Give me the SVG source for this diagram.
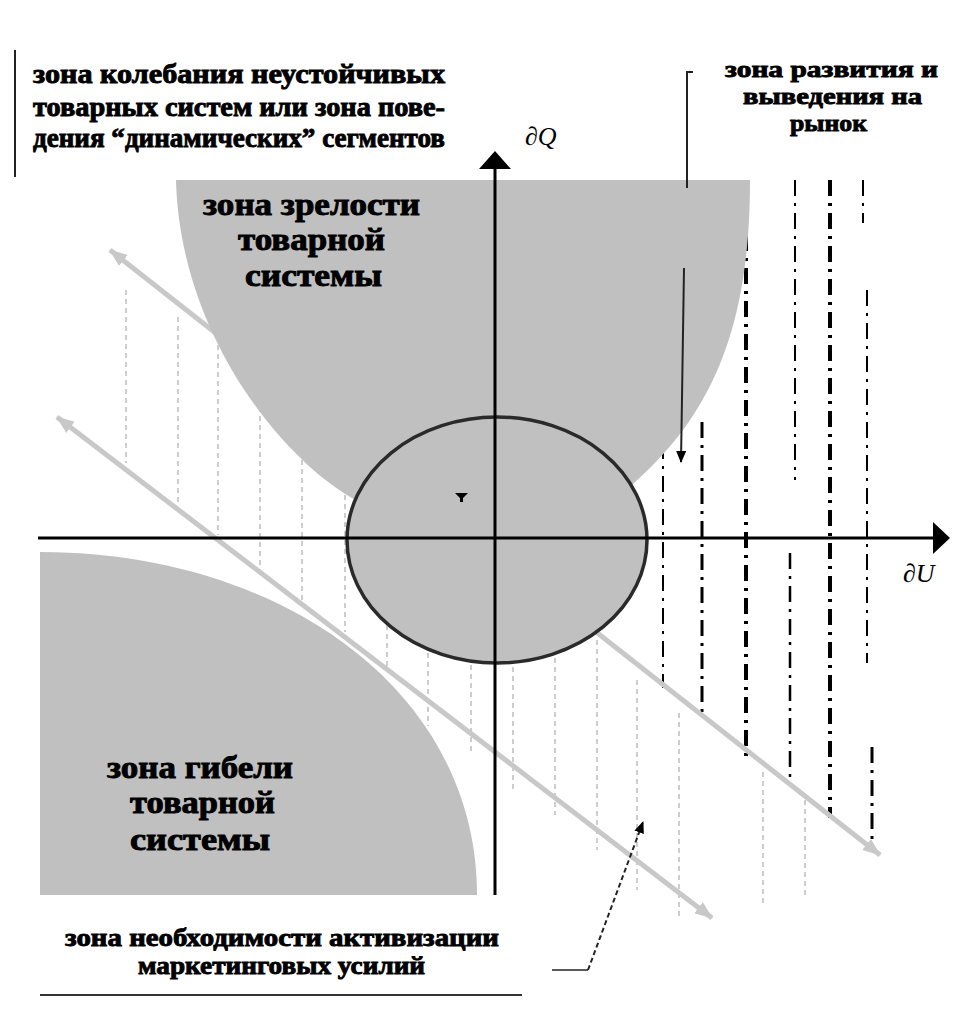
<svg xmlns="http://www.w3.org/2000/svg" width="970" height="1012" viewBox="0 0 970 1012">
<style>
.bg{fill:#ffffff}
.zone{fill:#c0c0c0}
.hatch{stroke:#bdbdbd;stroke-width:1.5;stroke-dasharray:5 4;fill:none}
.dd{stroke:#000;stroke-dasharray:16 7 3 7;fill:none}
.garrow{stroke:#c8c8c8;stroke-width:5;fill:none}
.axis{stroke:#000;stroke-width:3;fill:none}
.ann{stroke:#222;stroke-width:2;fill:none}
.lbl{font-family:"Liberation Serif","Times New Roman",serif;font-weight:bold;fill:#000;stroke:#000;stroke-width:0.9}
.ax{font-family:"Liberation Serif","DejaVu Serif",serif;font-style:italic;font-size:26px;fill:#000}
</style>
<defs>
<marker id="ga" markerUnits="userSpaceOnUse" markerWidth="18" markerHeight="14" refX="17" refY="7" orient="auto-start-reverse">
<path d="M0,0 L18,7 L0,14 Z" fill="#c8c8c8"/>
</marker>
<marker id="ba" markerUnits="userSpaceOnUse" markerWidth="12" markerHeight="10" refX="11" refY="5" orient="auto">
<path d="M0,0 L12,5 L0,10 Z" fill="#000"/>
</marker>
</defs>
<rect class="bg" x="0" y="0" width="970" height="1012"/>

<g id="hatching">
<line class="hatch" x1="126" y1="290" x2="126" y2="463"/>
<line class="hatch" x1="178" y1="317" x2="178" y2="503"/>
<line class="hatch" x1="218" y1="345" x2="218" y2="535"/>
<line class="hatch" x1="260" y1="380" x2="260" y2="572"/>
<line class="hatch" x1="302" y1="415" x2="302" y2="600"/>
<line class="hatch" x1="345" y1="450" x2="345" y2="632"/>
<line class="hatch" x1="387" y1="490" x2="387" y2="672"/>
<line class="hatch" x1="428" y1="590" x2="428" y2="726"/>
<line class="hatch" x1="471" y1="620" x2="471" y2="753"/>
<line class="hatch" x1="513" y1="640" x2="513" y2="790"/>
<line class="hatch" x1="555" y1="640" x2="555" y2="815"/>
<line class="hatch" x1="597" y1="640" x2="597" y2="850"/>
<line class="hatch" x1="637" y1="680" x2="637" y2="890"/>
<line class="hatch" x1="679" y1="713" x2="679" y2="918"/>
<line class="hatch" x1="763" y1="772" x2="763" y2="905"/>
<line class="hatch" x1="805" y1="800" x2="805" y2="897"/>
</g>

<g id="development-lines">
<line class="dd" x1="663" y1="443" x2="663" y2="688" stroke-width="2"/>
<line class="dd" x1="702" y1="422" x2="702" y2="718" stroke-width="3"/>
<line class="dd" x1="746" y1="235" x2="746" y2="757" stroke-width="4"/>
<line class="dd" x1="795" y1="180" x2="795" y2="480" stroke-width="2"/>
<line class="dd" x1="790" y1="553" x2="790" y2="786" stroke-width="2.5"/>
<line class="dd" x1="830" y1="180" x2="830" y2="818" stroke-width="4"/>
<line class="dd" x1="863" y1="180" x2="863" y2="223" stroke-width="2"/>
<line class="dd" x1="867" y1="290" x2="867" y2="663" stroke-width="2"/>
<line class="dd" x1="872" y1="747" x2="872" y2="850" stroke-width="3"/>
</g>

<g id="boundary-arrows">
<line class="garrow" x1="110" y1="250" x2="880" y2="855" marker-start="url(#ga)" marker-end="url(#ga)"/>
<line class="garrow" x1="57" y1="417" x2="712" y2="918" marker-start="url(#ga)" marker-end="url(#ga)"/>
</g>

<g id="zone-maturity">
<path class="zone" d="M176,180 H750 C750,340 705,425 620,495 L365,505 C290,470 180,340 176,180 Z"/>
</g>
<g id="zone-death">
<path class="zone" d="M40,552 C280,552 477,690 477,895 L40,895 Z"/>
</g>
<g id="zone-instability">
<ellipse cx="497" cy="540" rx="150" ry="123" fill="#c0c0c0" stroke="#2a2a2a" stroke-width="3.5"/>
<path d="M455,493 H468 L463,498 V502 H460 V498 Z" fill="#000"/>
</g>

<g id="axes">
<line class="axis" x1="38" y1="538" x2="936" y2="538"/>
<polygon points="950,538 933,522 933,554" fill="#000"/>
<line class="axis" x1="495" y1="895" x2="495" y2="166"/>
<polygon points="495,151 479,169 511,169" fill="#000"/>
<text class="ax" x="525" y="145">∂Q</text>
<text class="ax" x="903" y="582">∂U</text>
</g>

<g id="connectors">
<line class="ann" x1="15" y1="50" x2="15" y2="177"/>
<path class="ann" d="M693,72 H687 V188"/>
<path class="ann" d="M684,268 L681,462" marker-end="url(#ba)"/>
<line x1="552" y1="970" x2="588" y2="970" stroke="#222" stroke-width="1.5"/>
<path d="M588,970 L643,822" stroke="#222" stroke-width="2" stroke-dasharray="5 3" fill="none" marker-end="url(#ba)"/>
<line x1="40" y1="995" x2="522" y2="995" stroke="#333" stroke-width="2"/>
</g>

<g id="label-instability">
<text class="lbl" font-size="27" x="33" y="83" textLength="412" lengthAdjust="spacingAndGlyphs">зона  колебания неустойчивых</text>
<text class="lbl" font-size="27" x="33" y="116" textLength="412" lengthAdjust="spacingAndGlyphs">товарных систем или зона пове-</text>
<text class="lbl" font-size="27" x="33" y="147" textLength="412" lengthAdjust="spacingAndGlyphs">дения “динамических” сегментов</text>
</g>
<g id="label-development">
<text class="lbl" font-size="24" x="725" y="77" textLength="213" lengthAdjust="spacingAndGlyphs">зона  развития и</text>
<text class="lbl" font-size="24" x="743" y="104" textLength="179" lengthAdjust="spacingAndGlyphs">выведения на</text>
<text class="lbl" font-size="24" x="790" y="131" textLength="77" lengthAdjust="spacingAndGlyphs">рынок</text>
</g>
<g id="label-maturity">
<text class="lbl" font-size="31" x="203" y="215" textLength="217" lengthAdjust="spacingAndGlyphs">зона зрелости</text>
<text class="lbl" font-size="31" x="238" y="250" textLength="147" lengthAdjust="spacingAndGlyphs">товарной</text>
<text class="lbl" font-size="31" x="245" y="286" textLength="137" lengthAdjust="spacingAndGlyphs">системы</text>
</g>
<g id="label-death">
<text class="lbl" font-size="31" x="107" y="778" textLength="186" lengthAdjust="spacingAndGlyphs">зона гибели</text>
<text class="lbl" font-size="31" x="130" y="813" textLength="145" lengthAdjust="spacingAndGlyphs">товарной</text>
<text class="lbl" font-size="31" x="130" y="850" textLength="140" lengthAdjust="spacingAndGlyphs">системы</text>
</g>
<g id="label-marketing">
<text class="lbl" font-size="25" x="65" y="946" textLength="434" lengthAdjust="spacingAndGlyphs">зона  необходимости  активизации</text>
<text class="lbl" font-size="25" x="138" y="974" textLength="287" lengthAdjust="spacingAndGlyphs">маркетинговых усилий</text>
</g>
</svg>
